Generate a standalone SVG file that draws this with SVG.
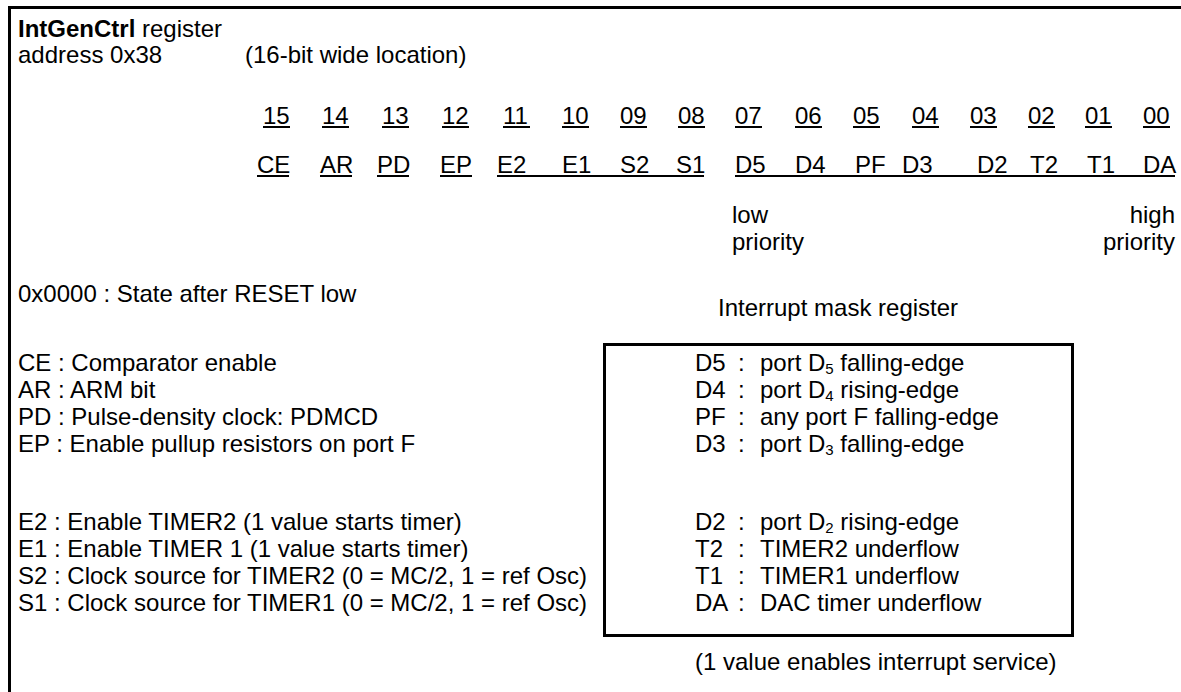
<svg xmlns="http://www.w3.org/2000/svg" width="1181" height="692" viewBox="0 0 1181 692">
<style>
text{font-family:"Liberation Sans",Arial,sans-serif;font-size:24px;fill:#000}
.b{font-weight:bold}
.sub{font-size:15px}
.ul{stroke:#000;stroke-width:2}
.frame{stroke:#000;stroke-width:3;fill:none}
</style>
<rect width="1181" height="692" fill="#fff"/>
<g id="frame">
<path class="frame" d="M9.5,692 V7.5 H1181"/>
</g>
<g id="header">
<text x="18" y="37"><tspan class="b">IntGenCtrl</tspan> register</text>
<text x="18" y="63">address 0x38</text>
<text x="245" y="63">(16-bit wide location)</text>
</g>
<g id="bit-numbers">
<text x="263" y="124">15</text>
<text x="322" y="124">14</text>
<text x="382" y="124">13</text>
<text x="442" y="124">12</text>
<text x="503" y="124">11</text>
<text x="562" y="124">10</text>
<text x="620" y="124">09</text>
<text x="678" y="124">08</text>
<text x="735" y="124">07</text>
<text x="795" y="124">06</text>
<text x="853" y="124">05</text>
<text x="912" y="124">04</text>
<text x="970" y="124">03</text>
<text x="1028" y="124">02</text>
<text x="1085" y="124">01</text>
<text x="1143" y="124">00</text>
<path class="ul" d="M263,127h27M322,127h27M382,127h27M442,127h27M503,127h27M562,127h27M620,127h27M678,127h27M735,127h27M795,127h27M853,127h27M912,127h27M970,127h27M1028,127h27M1085,127h27M1143,127h27"/>
</g>
<g id="bit-labels">
<text x="257" y="173">CE</text>
<text x="320" y="173">AR</text>
<text x="377" y="173">PD</text>
<text x="440" y="173">EP</text>
<text x="497" y="173">E2</text>
<text x="562" y="173">E1</text>
<text x="620" y="173">S2</text>
<text x="676" y="173">S1</text>
<text x="735" y="173">D5</text>
<text x="795" y="173">D4</text>
<text x="855" y="173">PF</text>
<text x="902" y="173">D3</text>
<text x="977" y="173">D2</text>
<text x="1030" y="173">T2</text>
<text x="1087" y="173">T1</text>
<text x="1143" y="173">DA</text>
<path class="ul" d="M257,176h32M320,176h32M377,176h32M440,176h32M497,176H704M735,176H1175"/>
</g>
<g id="priority">
<text x="732" y="223">low</text>
<text x="732" y="250">priority</text>
<text x="1175" y="223" text-anchor="end">high</text>
<text x="1175" y="250" text-anchor="end">priority</text>
</g>
<g id="reset-state">
<text x="18" y="302">0x0000 : State after RESET low</text>
</g>
<g id="bit-descriptions">
<text x="18" y="371">CE : Comparator enable</text>
<text x="18" y="398">AR : ARM bit</text>
<text x="18" y="425">PD : Pulse-density clock: PDMCD</text>
<text x="18" y="452">EP : Enable pullup resistors on port F</text>
<text x="18" y="530">E2 : Enable TIMER2 (1 value starts timer)</text>
<text x="18" y="557">E1 : Enable TIMER 1 (1 value starts timer)</text>
<text x="18" y="584">S2 : Clock source for TIMER2 (0 = MC/2, 1 = ref Osc)</text>
<text x="18" y="611">S1 : Clock source for TIMER1 (0 = MC/2, 1 = ref Osc)</text>
</g>
<g id="interrupt-mask">
<text x="718" y="316">Interrupt mask register</text>
<rect class="frame" x="604.5" y="344.5" width="468" height="291"/>
<text x="695" y="371">D5</text><text x="738" y="371">:</text><text x="760" y="371">port D<tspan class="sub" dy="3">5</tspan><tspan dy="-3"> falling-edge</tspan></text>
<text x="695" y="398">D4</text><text x="738" y="398">:</text><text x="760" y="398">port D<tspan class="sub" dy="3">4</tspan><tspan dy="-3"> rising-edge</tspan></text>
<text x="695" y="425">PF</text><text x="738" y="425">:</text><text x="760" y="425">any port F falling-edge</text>
<text x="695" y="452">D3</text><text x="738" y="452">:</text><text x="760" y="452">port D<tspan class="sub" dy="3">3</tspan><tspan dy="-3"> falling-edge</tspan></text>
<text x="695" y="530">D2</text><text x="738" y="530">:</text><text x="760" y="530">port D<tspan class="sub" dy="3">2</tspan><tspan dy="-3"> rising-edge</tspan></text>
<text x="695" y="557">T2</text><text x="738" y="557">:</text><text x="760" y="557">TIMER2 underflow</text>
<text x="695" y="584">T1</text><text x="738" y="584">:</text><text x="760" y="584">TIMER1 underflow</text>
<text x="695" y="611">DA</text><text x="738" y="611">:</text><text x="760" y="611">DAC timer underflow</text>
<text x="695" y="670">(1 value enables interrupt service)</text>
</g>
</svg>
